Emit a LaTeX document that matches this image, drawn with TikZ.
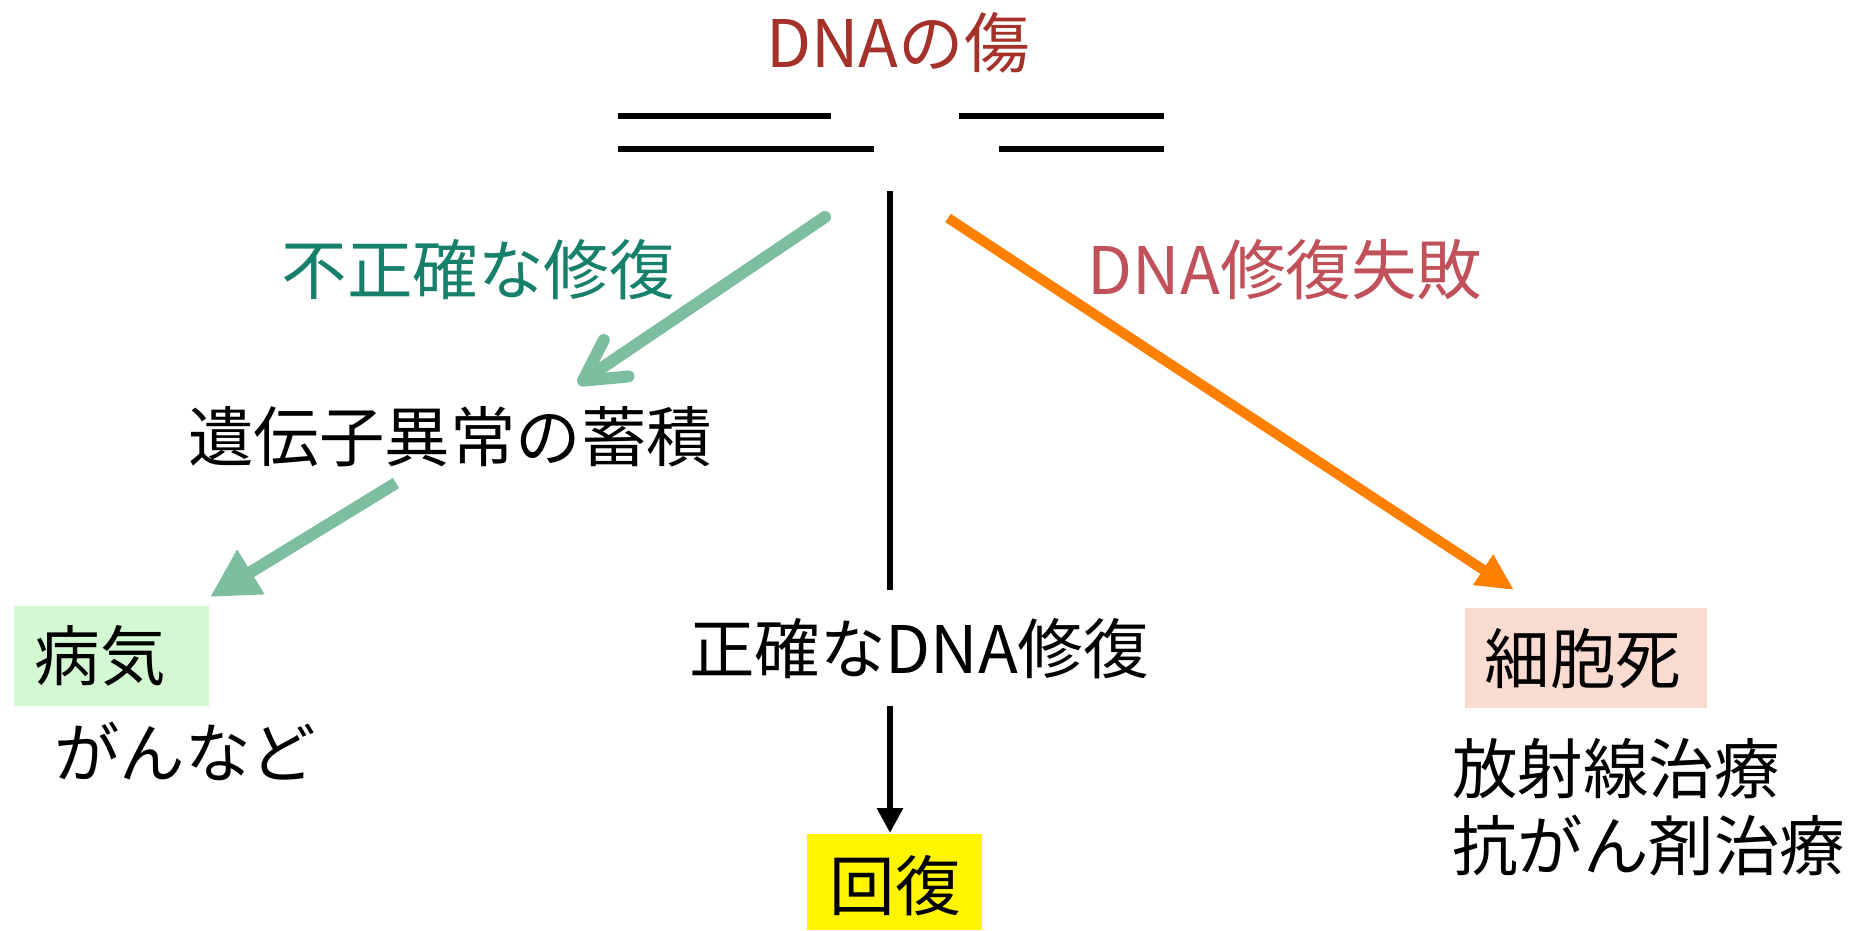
\documentclass[tikz,border=0pt]{standalone}
\usepackage{fontspec}
\setmainfont{Noto Sans CJK JP}
\usetikzlibrary{arrows.meta}
\definecolor{titlered}{HTML}{A5322A}
\definecolor{tealtext}{HTML}{17806A}
\definecolor{failred}{HTML}{C0505A}
\definecolor{greenarrow}{HTML}{7DBEA0}
\definecolor{orangearrow}{HTML}{FF7F00}
\definecolor{boxgreen}{HTML}{D4F8D2}
\definecolor{boxpink}{HTML}{FADBD2}
\definecolor{boxyellow}{HTML}{FFF500}
\tikzset{
  lbl/.style={font=\fontsize{65.5}{74}\selectfont, inner sep=0pt},
  strand/.style={line width=6.5pt, black},
  greenline/.style={line width=12pt, greenarrow},
}
\begin{document}
\begin{tikzpicture}[x=1pt,y=-1pt]
\useasboundingbox (0,0) rectangle (1870,930);
% title
\node[lbl, text=titlered] (title) at (898,43) {DNAの傷};
% DNA strands
\draw[strand] (618,116) -- (831,116);
\draw[strand] (618,149) -- (874,149);
\draw[strand] (959,116) -- (1164,116);
\draw[strand] (999,149) -- (1164,149);
% labels
\node[lbl, text=tealtext] (inacc) at (478,270) {不正確な修復};
\node[lbl, text=failred] (fail) at (1285,270) {DNA修復失敗};
\node[lbl] (accum) at (450,437) {遺伝子異常の蓄積};
\node[lbl] (exact) at (919,649) {正確なDNA修復};
% boxes
\fill[boxgreen] (14,606) rectangle (209,706);
\node[lbl] (disease) at (100,656) {病気};
\node[lbl] (cancer) at (185,751) {がんなど};
\fill[boxpink] (1465,608) rectangle (1707,708);
\node[lbl] (death) at (1583,659) {細胞死};
\node[lbl, anchor=west] (rad) at (1452,769) {放射線治療};
\node[lbl, anchor=west] (chemo) at (1452,846) {抗がん剤治療};
\fill[boxyellow] (807,834) rectangle (982,930);
\node[lbl] (recover) at (895,886) {回復};
% connectors
\coordinate (g1s) at (825,217);
\coordinate (g1e) at (578,384);
\coordinate (g2s) at (396,483);
\coordinate (g2e) at (210,597);
\coordinate (os) at (948,218);
\coordinate (oe) at (1514,590);
\coordinate (vs) at (890,191);
\coordinate (ve) at (890,590);
\coordinate (as) at (890,706);
\coordinate (ae) at (890,833);
\draw[greenline, line cap=round, -{Straight Barb[length=40pt,width=44pt,round]}] (g1s) -- (g1e);
\draw[greenline, -{Triangle[length=48pt,width=49pt]}] (g2s) -- (g2e);
\draw[line width=10pt, orangearrow, -{Triangle[length=37pt,width=34pt]}] (os) -- (oe);
\draw[line width=6pt, black] (vs) -- (ve);
\draw[line width=6pt, black, -{Triangle[length=25pt,width=25pt]}] (as) -- (ae);
\end{tikzpicture}
\end{document}
